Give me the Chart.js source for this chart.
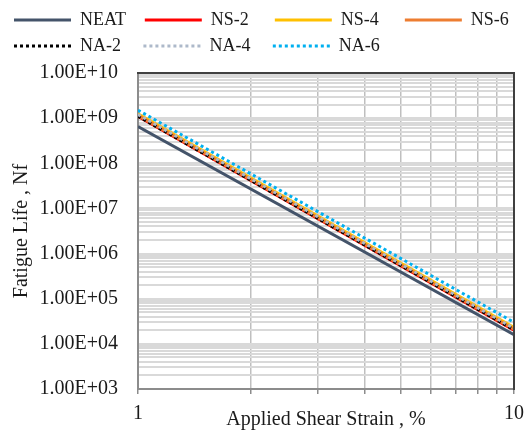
<!DOCTYPE html>
<html>
<head>
<meta charset="utf-8">
<title>Fatigue life vs applied shear strain</title>
<script src="https://cdn.jsdelivr.net/npm/chart.js@4.4.0/dist/chart.umd.min.js"></script>
<style>
  html, body { margin: 0; padding: 0; background: #ffffff; }
</style>
</head>
<body>
<canvas id="canvas-chart" width="532" height="430"></canvas>
<script>
// Applied shear strain (%) where each fitted line is read
const strain = [1, 10];

// Fatigue life Nf for every binder at 1 % and 10 % strain
const neat = [6.5e8, 1.6e4];
const ns2 = [1.1e9, 2.0e4];
const ns4 = [1.25e9, 2.3e4];
const ns6 = [1.15e9, 2.1e4];
const na2 = [1.1e9, 2.05e4];
const na4 = [1.2e9, 2.2e4];
const na6 = [1.5e9, 3.0e4];

// Axis ticks
const xTicks = [1, 2, 3, 4, 5, 6, 7, 8, 9, 10];
const xLabelTicks = [1, 10];
const yDecades = [1e3, 1e4, 1e5, 1e6, 1e7, 1e8, 1e9, 1e10];

// Log gridlines: 1..9 inside every decade, then the top decade itself
const yTicks = [];
yDecades.slice(0, -1).forEach((d) => {
  for (let m = 1; m <= 9; m++) yTicks.push(d * m);
});
yTicks.push(yDecades[yDecades.length - 1]);

const serif = '"Liberation Serif", "Times New Roman", serif';
const textColor = "#1a1a1a";

// Turns two arrays into {x, y} points
const toPoints = (values) => strain.map((s, i) => ({ x: s, y: values[i] }));

// Excel-like label, e.g. 1.00E+04
const sciLabel = (v) => {
  const exp = Math.round(Math.log10(v));
  return "1.00E+" + String(exp).padStart(2, "0");
};

const isDecade = (v) => yDecades.some((d) => Math.abs(v - d) / d < 1e-9);

const solid = (label, values, color) => ({
  label: label,
  data: toPoints(values),
  borderColor: color,
  backgroundColor: color,
  borderWidth: 3,
});
const dotted = (label, values, color) => ({
  ...solid(label, values, color),
  borderDash: [3, 3],
});

const datasets = [
  solid("NEAT", neat, "#44546a"),
  solid("NS-2", ns2, "#ff0000"),
  solid("NS-4", ns4, "#ffc000"),
  solid("NS-6", ns6, "#ed7d31"),
  dotted("NA-2", na2, "#000000"),
  dotted("NA-4", na4, "#adb9ca"),
  dotted("NA-6", na6, "#00b0f0"),
];
// later series are drawn on top
datasets.forEach((ds, i) => {
  ds.order = datasets.length - i;
});

// Legend entries are widened with thin spaces so the columns line up
const legendFontSize = 18;
const legendTextWidth = 55;
const rowEnds = ["NS-6", "NA-6"];

const legendLabels = (chart) => {
  const items = Chart.defaults.plugins.legend.labels.generateLabels(chart);
  const ctx = chart.ctx;
  ctx.save();
  ctx.font = legendFontSize + "px " + serif;
  items.forEach((item) => {
    const ds = chart.data.datasets[item.datasetIndex];
    // point style legend would take the point options, use the line ones
    item.lineWidth = ds.borderWidth;
    item.lineDash = ds.borderDash || [];
    item.strokeStyle = ds.borderColor;
    if (rowEnds.includes(item.text)) return;
    let text = item.text;
    while (ctx.measureText(text).width < legendTextWidth) text += "\u2009";
    item.text = text;
  });
  ctx.restore();
  return items;
};

new Chart(document.getElementById("canvas-chart"), {
  type: "line",
  data: { datasets: datasets },
  options: {
    responsive: false,
    animation: false,
    events: [],
    layout: { padding: { top: 3, left: 6, right: 0, bottom: 0 } },
    elements: {
      point: { radius: 0, hoverRadius: 0 },
      line: { tension: 0 },
    },
    plugins: {
      tooltip: { enabled: false },
      legend: {
        position: "top",
        align: "start",
        labels: {
          usePointStyle: true,
          pointStyle: "line",
          pointStyleWidth: 57,
          padding: 8,
          color: textColor,
          font: { family: serif, size: legendFontSize },
          generateLabels: legendLabels,
          sort: (a, b) => a.datasetIndex - b.datasetIndex,
        },
      },
    },
    scales: {
      x: {
        type: "logarithmic",
        position: "bottom",
        min: 1,
        max: 10,
        afterBuildTicks: (scale) => {
          scale.ticks = xTicks.map((v) => ({ value: v }));
        },
        afterFit: (scale) => {
          scale.height = 41;
        },
        ticks: {
          autoSkip: false,
          maxRotation: 0,
          padding: 8,
          color: textColor,
          font: { family: serif, size: 20 },
          callback: (v) => (xLabelTicks.includes(v) ? String(v) : ""),
        },
        grid: {
          lineWidth: 1.5,
          color: (c) =>
            c.tick && xLabelTicks.includes(c.tick.value) ? "rgba(0,0,0,0)" : "#bfbfbf",
          drawTicks: true,
          tickLength: 5,
          tickColor: "#8c8c8c",
          tickWidth: 1.5,
        },
        border: { display: true, color: "#8c8c8c", width: 2 },
        title: {
          display: true,
          text: "Applied Shear Strain , %",
          color: textColor,
          font: { family: serif, size: 20, lineHeight: 1 },
          padding: { top: 0, bottom: 0 },
        },
      },
      // top edge of the plot frame
      xTop: {
        type: "logarithmic",
        position: "top",
        min: 1,
        max: 10,
        grid: { display: false },
        ticks: { display: false },
        border: { display: true, color: "#404040", width: 2, z: 1 },
        afterFit: (scale) => {
          scale.height = 8;
        },
      },
      y: {
        type: "logarithmic",
        position: "left",
        min: 1e3,
        max: 1e10,
        afterBuildTicks: (scale) => {
          scale.ticks = yTicks.map((v) => ({ value: v }));
        },
        afterFit: (scale) => {
          scale.width = 132;
        },
        ticks: {
          autoSkip: false,
          padding: 20,
          color: textColor,
          font: { family: serif, size: 20 },
          callback: (v) => (isDecade(v) ? sciLabel(v) : ""),
        },
        grid: {
          lineWidth: 2,
          drawTicks: false,
          color: (c) => {
            const v = c.tick ? c.tick.value : 0;
            return v <= yDecades[0] || v >= yDecades[yDecades.length - 1]
              ? "rgba(0,0,0,0)"
              : "#d9d9d9";
          },
        },
        border: { display: true, color: "#8c8c8c", width: 2 },
        title: {
          display: true,
          text: "Fatigue Life , Nf",
          color: textColor,
          font: { family: serif, size: 20, lineHeight: 1 },
          padding: { top: 6, bottom: 0 },
        },
      },
      // right edge of the plot frame
      yRight: {
        type: "logarithmic",
        position: "right",
        min: 1e3,
        max: 1e10,
        grid: { display: false },
        ticks: { display: false },
        border: { display: true, color: "#404040", width: 2, z: 1 },
        afterFit: (scale) => {
          scale.width = 18;
        },
      },
    },
  },
});
</script>
</body>
</html>
